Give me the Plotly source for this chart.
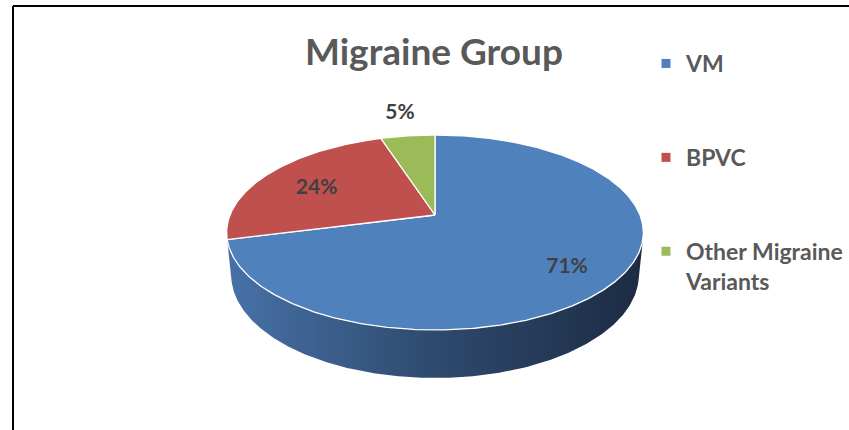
import numpy as np
import plotly.graph_objects as go

# ---- data ----
categories = ["VM", "BPVC", "Other Migraine<br>Variants"]
values = [71, 24, 5]
label_texts = ["71%", "24%", "5%"]
title_text = "Migraine Group"

# ---- styles ----
top_colors = ["#4F81BD", "#C0504D", "#9BBB59"]
side_scales = [
    [[0, "#4771a7"], [0.5, "#2e4a6e"], [1, "#1c2c43"]],
    [[0, "#a84644"], [0.5, "#7a3130"], [1, "#4f1f1e"]],
    [[0, "#87a34d"], [0.5, "#637838"], [1, "#414f24"]],
]
W, H = 849, 430
CX, CY = 435, 215          # projected pie apex (pixels)
K = 1014                   # pixel scale of the projection
ELEV = np.radians(27.4)    # camera elevation
S, C = np.sin(ELEV), np.cos(ELEV)
L = 4.946                  # camera distance (pie radius = 1)
THICK = 0.236              # pie thickness
FONT = "Lato"


def project(theta_deg, r=1.0, y=0.0):
    th = np.radians(np.asarray(theta_deg, dtype=float))
    x = r * np.sin(th)
    z = -r * np.cos(th)
    d = L - y * S - z * C
    sx = x / d
    sy = (y * C - z * S) / d
    return CX + K * sx, CY - K * sy


total = float(sum(values))
bounds = np.concatenate([[0], np.cumsum(values)]) / total * 360.0
zt = 1.0 / (L * C)
vis0 = 180 - np.degrees(np.arccos(zt))
vis1 = 180 + np.degrees(np.arccos(zt))
left_x, _ = project(270)
right_x, _ = project(90)

fig = go.Figure()

# sides (visible near part of the rim)
for i in range(len(values)):
    a0, a1 = max(bounds[i], vis0), min(bounds[i + 1], vis1)
    if a1 <= a0:
        continue
    th = np.linspace(a0, a1, max(int((a1 - a0) * 2), 2))
    xt, yt = project(th, 1.0, 0.0)
    xb, yb = project(th[::-1], 1.0, -THICK)
    fig.add_trace(go.Scatter(
        x=np.concatenate([xt, xb]), y=np.concatenate([yt, yb]),
        mode="lines", fill="toself", line=dict(width=0),
        fillgradient=dict(type="horizontal", colorscale=side_scales[i],
                          start=left_x, stop=right_x),
        hoverinfo="skip", showlegend=False))

# top faces
for i in range(len(values)):
    a0, a1 = bounds[i], bounds[i + 1]
    th = np.linspace(a0, a1, max(int((a1 - a0) * 2), 2))
    xa, ya = project(th)
    x0, y0 = project(0, 0.0)
    fig.add_trace(go.Scatter(
        x=np.concatenate([[x0], xa, [x0]]), y=np.concatenate([[y0], ya, [y0]]),
        mode="lines", fill="toself", fillcolor=top_colors[i],
        line=dict(color="white", width=1.3),
        name=categories[i], hoverinfo="name", showlegend=False))

# data labels
lx, ly = [], []
for i in range(len(values)):
    mid = (bounds[i] + bounds[i + 1]) / 2
    frac = values[i] / total
    if frac > 0.5:
        px, py = project(mid, 0.75, -0.03)
    elif frac > 0.1:
        px, py = project(mid, 0.70, -0.02)
    else:
        px, py = project(mid, 1.35, 0.0)
    lx.append(float(px))
    ly.append(float(py))
fig.add_trace(go.Scatter(
    x=lx, y=ly, mode="text", text=label_texts,
    textfont=dict(family=FONT, size=21, color="#404040", weight="bold"),
    hoverinfo="skip", showlegend=False))

# legend entries
for i, cat in enumerate(categories):
    fig.add_trace(go.Scatter(
        x=[None], y=[None], mode="markers", name=cat, legendgroup=cat,
        marker=dict(symbol="square", size=9, color=top_colors[i]),
        showlegend=True))

# chart frame (top and left edges visible)
fig.add_shape(type="line", xref="x", yref="y", x0=13, y0=6, x1=W, y1=6,
              line=dict(color="black", width=2))
fig.add_shape(type="line", xref="x", yref="y", x0=13, y0=6, x1=13, y1=H,
              line=dict(color="black", width=2))

fig.update_layout(
    width=W, height=H,
    margin=dict(l=0, r=0, t=0, b=0),
    paper_bgcolor="white", plot_bgcolor="white",
    xaxis=dict(range=[0, W], visible=False, fixedrange=True),
    yaxis=dict(range=[H, 0], visible=False, fixedrange=True),
    title=dict(text=title_text, x=434 / W, xanchor="center",
               y=1 - 52 / H, yanchor="middle",
               font=dict(family=FONT, size=37, color="#595959", weight="bold")),
    legend=dict(x=646 / W, y=1 - 42 / H, xanchor="left", yanchor="top",
                traceorder="grouped", tracegroupgap=61, valign="top",
                bgcolor="rgba(0,0,0,0)",
                font=dict(family=FONT, size=23, color="#595959", weight="bold")),
    showlegend=True,
)

fig.write_html("out.html", config={"displayModeBar": False},
               post_script="document.body.style.margin='0px';document.body.style.overflow='hidden';")
